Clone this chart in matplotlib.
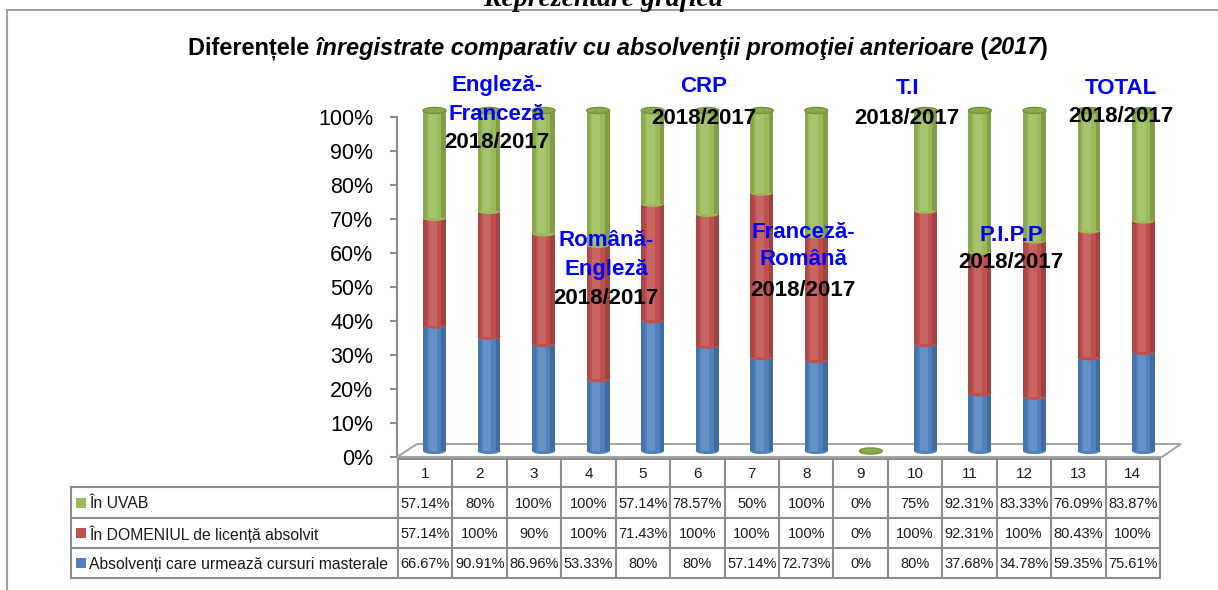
import matplotlib
matplotlib.use("Agg")
import matplotlib.pyplot as plt
import numpy as np
from matplotlib.patches import Ellipse, Rectangle, Polygon
from matplotlib.lines import Line2D
from matplotlib.text import Annotation

categories = [str(i) for i in range(1, 15)]
series_names = ["În UVAB",
                "În DOMENIUL de licență absolvit",
                "Absolvenți care urmează cursuri masterale"]
uvab = [57.14, 80, 100, 100, 57.14, 78.57, 50, 100, 0, 75, 92.31, 83.33, 76.09, 83.87]
domeniu = [57.14, 100, 90, 100, 71.43, 100, 100, 100, 0, 100, 92.31, 100, 80.43, 100]
masterat = [66.67, 90.91, 86.96, 53.33, 80, 80, 57.14, 72.73, 0, 80, 37.68, 34.78, 59.35, 75.61]

GREEN, RED, BLUE = "#9BBB59", "#C0504D", "#4F81BD"
GRID = "#8c8c8c"

W, H = 1218, 590
fig = plt.figure(figsize=(W / 100, H / 100), dpi=100)


def fx(x):
    return x / W


def fy(y):
    return 1 - y / H


# cut-off heading above the frame
fig.text(fx(603), fy(6), "Reprezentare grafică", ha="center", va="baseline",
         fontsize=20, fontweight="bold", style="italic", family="Liberation Serif")

# frame
fig.add_artist(Line2D([fx(7), fx(7)], [fy(10), 0], color="#a0a0a0", lw=1.5))
fig.add_artist(Line2D([fx(7), 1], [fy(10), fy(10)], color="#a0a0a0", lw=1.5))

# title with mixed upright / italic parts, chained one after the other
title_parts = [("Diferențele ", "normal"),
               ("înregistrate comparativ cu absolvenţii promoţiei anterioare", "italic"),
               (" (", "normal"), ("2017", "italic"), (")", "normal")]
tfont = ["Liberation Sans", "DejaVu Sans"]
tsize = 16.9
prev = fig.text(fx(188), fy(54), title_parts[0][0], ha="left", va="baseline",
                fontsize=tsize, fontweight="bold", family=tfont)
for txt, st in title_parts[1:]:
    prev = fig.add_artist(Annotation(
        txt, xy=(1, 0), xycoords=prev, ha="left", va="bottom",
        fontsize=tsize, fontweight="bold", style=st, family=tfont))

# ---- value axis (front) ----
ax = fig.add_axes([fx(397), fy(457), (1160 - 397) / W, 340 / H])
ax.set_xlim(0, 1)
ax.set_ylim(0, 1)
ticks = np.linspace(0, 1, 11)
ax.set_yticks(ticks)
ax.set_yticklabels([f"{int(round(t * 100))}%" for t in ticks], family="Liberation Sans")
ax.tick_params(axis="y", length=5, width=1.5, color=GRID, pad=12, labelsize=15.5)
ax.set_xticks([])
for s in ["top", "right", "bottom"]:
    ax.spines[s].set_visible(False)
ax.spines["left"].set_color(GRID)
ax.spines["left"].set_linewidth(1.5)
ax.patch.set_alpha(0)

# floor
floor = Polygon([(fx(397), fy(457)), (fx(1162), fy(457)), (fx(1181), fy(444)), (fx(417), fy(444))],
                closed=True, facecolor="white", edgecolor="#a6a6a6", lw=1.5,
                transform=fig.transFigure, zorder=1)
fig.add_artist(floor)

# ---- cylinders (shifted back for the 3D depth) ----
axb = fig.add_axes([fx(407.2), fy(451), 763.6 / W, 340.5 / H])
axb.set_zorder(2)
axb.set_xlim(-0.5, 13.5)
axb.set_ylim(0, 1)
axb.axis("off")

vals = np.array([masterat, domeniu, uvab], dtype=float)
totals = vals.sum(axis=0)
fracs = np.divide(vals, totals, out=np.zeros_like(vals), where=totals > 0)
colors = [BLUE, RED, GREEN]
x = np.arange(len(categories))
bw = 0.42
eh = 0.018

bottoms = np.zeros(len(categories))
for k in range(3):
    z = 2 + k
    axb.bar(x, fracs[k], bw, bottom=bottoms, color=colors[k], zorder=z, lw=0)
    for i in range(len(x)):
        if fracs[k][i] > 0:
            axb.add_patch(Ellipse((x[i], bottoms[i]), bw, eh, color=colors[k], zorder=z,
                                  clip_on=False, lw=0))
    # cylinder shading
    axb.bar(x - bw * 0.08, fracs[k], bw * 0.35, bottom=bottoms, color="white",
            alpha=0.13, zorder=z, lw=0)
    axb.bar(x - bw * 0.42, fracs[k], bw * 0.16, bottom=bottoms, color="black",
            alpha=0.10, zorder=z, lw=0)
    axb.bar(x + bw * 0.40, fracs[k], bw * 0.2, bottom=bottoms, color="black",
            alpha=0.16, zorder=z, lw=0)
    bottoms = bottoms + fracs[k]

tops = np.where(totals > 0, 1.0, 0.0)
for i in range(len(x)):
    axb.add_patch(Ellipse((x[i], tops[i]), bw, eh, facecolor="#8aa84e",
                          edgecolor="#76923c", lw=1, zorder=6, clip_on=False))

# ---- annotations over the chart ----
notes = [
    (497, [("Engleză-", 85, "#0000FF"), ("Franceză", 114, "#0000FF"), ("2018/2017", 142, "black")]),
    (704, [("CRP", 87, "#0000FF"), ("2018/2017", 118, "black")]),
    (606, [("Română-", 241, "#0000FF"), ("Engleză", 269, "#0000FF"), ("2018/2017", 299, "black")]),
    (803, [("Franceză-", 232, "#0000FF"), ("Română", 260, "#0000FF"), ("2018/2017", 290, "black")]),
    (907, [("T.I", 88, "#0000FF"), ("2018/2017", 118, "black")]),
    (1011, [("P.I.P.P", 235, "#0000FF"), ("2018/2017", 263, "black")]),
    (1121, [("TOTAL", 88, "#0000FF"), ("2018/2017", 117, "black")]),
]
for nx, lines in notes:
    for txt, ny, c in lines:
        fig.text(fx(nx), fy(ny), txt, ha="center", va="center", color=c, fontsize=16,
                 fontweight="bold", family="Liberation Sans", zorder=5)

# ---- data table ----
tl, tx0, tx1 = 71, 398, 1160
col_w = (tx1 - tx0) / len(categories)
y_head, y_rows = 459, [487, 518, 548, 578]
lc = dict(color=GRID, lw=1.5, zorder=3)
fig.add_artist(Line2D([fx(tx0), fx(tx1)], [fy(y_head), fy(y_head)], **lc))
for yy in y_rows:
    fig.add_artist(Line2D([fx(tl), fx(tx1)], [fy(yy), fy(yy)], **lc))
fig.add_artist(Line2D([fx(tl), fx(tl)], [fy(y_rows[0]), fy(y_rows[-1])], **lc))
for k in range(len(categories) + 1):
    xe = tx0 + k * col_w
    fig.add_artist(Line2D([fx(xe), fx(xe)], [fy(y_head), fy(y_rows[-1])], **lc))

cell_font = dict(family="Liberation Sans", color="#1a1a1a")
for i, c in enumerate(categories):
    fig.text(fx(tx0 + (i + 0.5) * col_w), fy(474), c, ha="center", va="center",
             fontsize=11, **cell_font)

table_rows = [uvab, domeniu, masterat]
row_colors = [GREEN, RED, BLUE]
for r in range(3):
    yc = (y_rows[r] + y_rows[r + 1]) / 2
    fig.add_artist(Rectangle((fx(76), fy(yc + 5)), 10 / W, 10 / H, facecolor=row_colors[r],
                             edgecolor="none", transform=fig.transFigure))
    fig.text(fx(89), fy(yc + 1), series_names[r], ha="left", va="center",
             fontsize=11.3, **cell_font)
    for i, v in enumerate(table_rows[r]):
        fig.text(fx(tx0 + (i + 0.5) * col_w), fy(yc + 1), f"{v:g}%",
                 ha="center", va="center", fontsize=10.5, **cell_font)

fig.savefig("out.png", dpi=100)
